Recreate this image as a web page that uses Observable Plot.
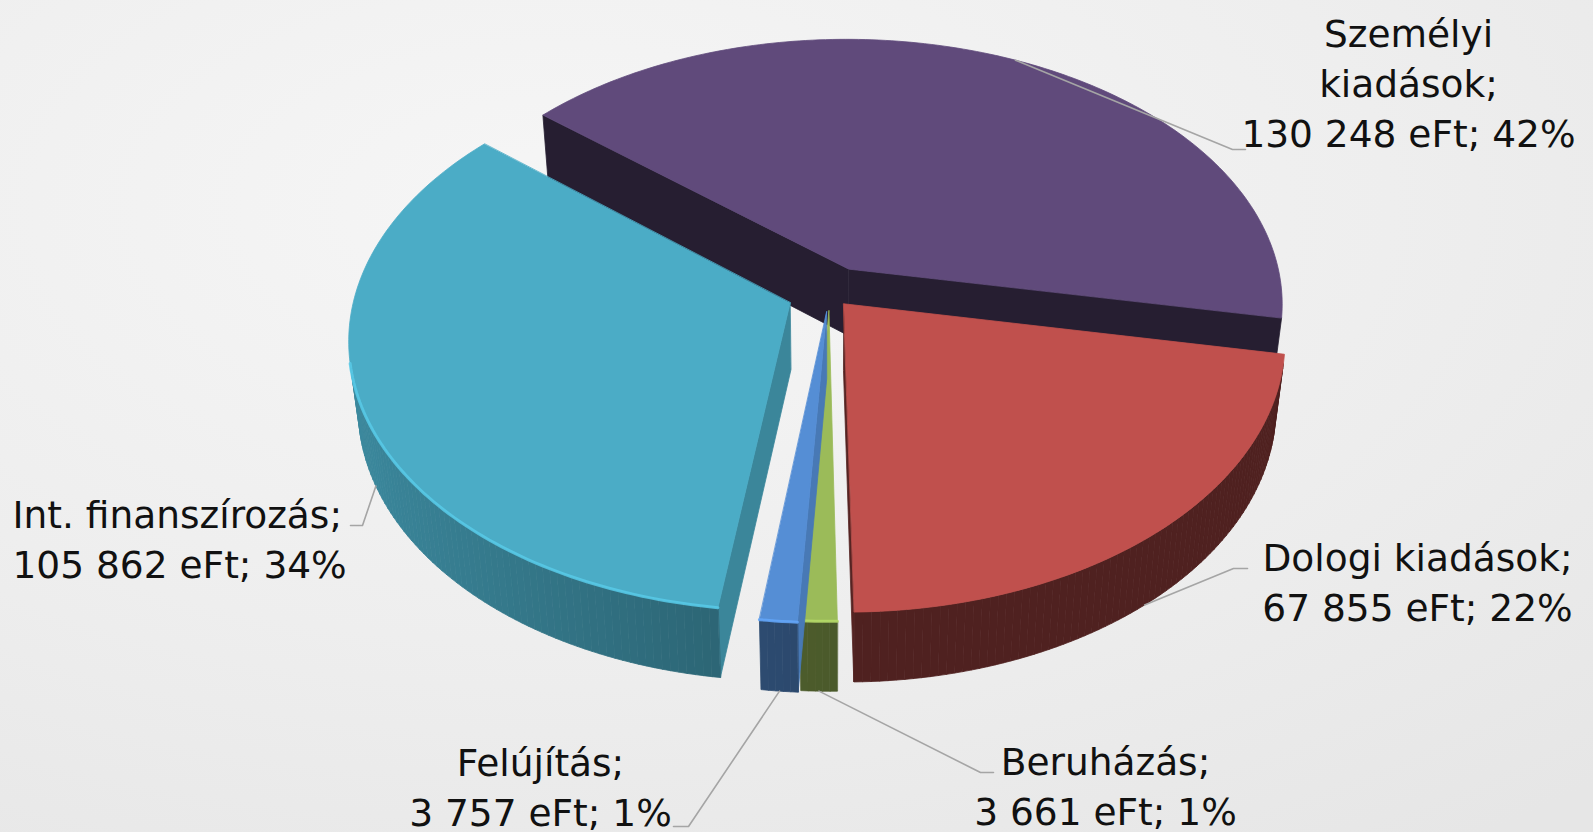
<!DOCTYPE html>
<html><head><meta charset="utf-8">
<script src="https://cdn.jsdelivr.net/npm/d3@7"></script>
<script src="https://cdn.jsdelivr.net/npm/@observablehq/plot@0.6"></script>
<style>
html,body{margin:0;padding:0;width:1593px;height:832px;overflow:hidden;}
body{background: radial-gradient(ellipse 95% 95% at 35% 25%, #f6f6f6 0%, #eeeeee 55%, #e6e6e6 100%);}
#chart svg{display:block}
</style></head><body><div id="chart"></div>
<script>
// ---- data ----
const categories = ["Személyi kiadások", "Dologi kiadások", "Beruházás", "Felújítás", "Int. finanszírozás"];
const values = [130248, 67855, 3661, 3757, 105862];
const unit = "eFt";
// ---- styles ----
const colors = ["#604a7b", "#c0504d", "#9bbb59", "#558ed5", "#4bacc6"];
const sideBase = [0.40, 0.41, 0.48, 0.50, 0.56];
const sideHigh = [0.60, 0.45, 0.70, 0.70, 0.80];
const cutShade = [0.40, 0.45, 0.80, 0.85, 0.78];
const rimGlow = [false, false, true, true, true];
// ---- layout ----
const explode = [45, 22, 28, 30, 42];
const geom = {cx: 829, cy: 293, R: 435, D: 86, tilt: 37.6, dist: 2656, start: 310};
const labelLines = [["Személyi", "kiadások;"], ["Dologi kiadások;"], ["Beruházás;"], ["Felújítás;"], ["Int. finanszírozás;"]];
const labelPos = [
  {x: 1408, base: 46, anchor: "middle", th: 26, h: 0, elbow: [1232, 149], end: [1245, 149]},
  {x: 1417, base: 570, anchor: "middle", th: 141, h: -1, elbow: [1233, 568], end: [1247, 568]},
  {x: 1105, base: 774, anchor: "middle", th: null, h: -1, elbow: [980, 772], end: [993, 772]},
  {x: 540, base: 775, anchor: "middle", th: null, h: -1, elbow: [688, 826], end: [673, 826]},
  {x: 12, base: 527, anchor: "start", th: 246, h: -1, elbow: [362, 525], end: [350, 525]}
];
const fontSize = 37.5, lineGap = 50;

const deg = Math.PI / 180;
const sinA = Math.sin(geom.tilt * deg), cosA = Math.cos(geom.tilt * deg);
const camZ = geom.dist * cosA;
function project(X, Z, h) {
  const t = Z * cosA + h * sinA;
  const s = geom.dist / (geom.dist - t);
  return [geom.cx + X * s, geom.cy + (Z * sinA - h * cosA) * s];
}
const total = d3.sum(values);
const arcs = d3.pie().sort(null).startAngle(geom.start * deg).endAngle(geom.start * deg + 2 * Math.PI)(values);
const slices = arcs.map((a, i) => {
  const mid = (a.startAngle + a.endAngle) / 2, e = explode[i];
  return {i, a1: a.startAngle, a2: a.endAngle, mid, ex: e * Math.sin(mid), ez: -e * Math.cos(mid), color: colors[i]};
});
function rim(sl, th, h) { return project(sl.ex + geom.R * Math.sin(th), sl.ez - geom.R * Math.cos(th), h); }
function apex(sl, h) { return project(sl.ex, sl.ez, h); }
function facing(nx, nz, px, pz) { return nx * (-px) + nz * (camZ - pz) > 0; }
function shade(c, f) { const r = d3.rgb(c); return d3.rgb(r.r * f, r.g * f, r.b * f).formatHex(); }

function polyRows(id, fill, pts) { return pts.map(([x, y]) => ({id, fill, x, y})); }

// painter's order: back to front by slice centroid depth
const order = slices.slice().sort((a, b) =>
  (a.ez - Math.cos(a.mid) * geom.R / 2) - (b.ez - Math.cos(b.mid) * geom.R / 2));

const marks = [];
// soft shadow
const shadowRows = [];
for (const sl of slices) {
  const pts = [apex(sl, -geom.D)];
  const n = Math.ceil((sl.a2 - sl.a1) / deg);
  for (let k = 0; k <= n; k++) pts.push(rim(sl, sl.a1 + (sl.a2 - sl.a1) * k / n, -geom.D));
  shadowRows.push(...polyRows("sh" + sl.i, "#000000", pts));
}
marks.push(Plot.line(shadowRows, {x: "x", y: "y", z: "id", fill: "#000", fillOpacity: 0.16, stroke: "none", curve: "linear-closed", dx: 4, dy: 8, ariaLabel: "shadow"}));

for (const sl of order) {
  const D = geom.D, i = sl.i;
  const sideRows = [];
  // cut faces
  const n1x = -Math.cos(sl.a1), n1z = -Math.sin(sl.a1);
  if (facing(n1x, n1z, sl.ex, sl.ez))
    sideRows.push(...polyRows(`c1-${i}`, shade(sl.color, cutShade[i]), [apex(sl, 0), rim(sl, sl.a1, 0), rim(sl, sl.a1, -D), apex(sl, -D)]));
  const n2x = Math.cos(sl.a2), n2z = Math.sin(sl.a2);
  if (facing(n2x, n2z, sl.ex, sl.ez))
    sideRows.push(...polyRows(`c2-${i}`, shade(sl.color, cutShade[i]), [apex(sl, 0), rim(sl, sl.a2, 0), rim(sl, sl.a2, -D), apex(sl, -D)]));
  // outer curved side
  const n = Math.max(2, Math.ceil((sl.a2 - sl.a1) / (1 * deg)));
  const d = (sl.a2 - sl.a1) / n;
  const glow = [];
  let glowSeg = 0, lastVis = false;
  for (let k = 0; k < n; k++) {
    const a = sl.a1 + k * d, b = a + d, m = (a + b) / 2;
    const px = sl.ex + geom.R * Math.sin(m), pz = sl.ez - geom.R * Math.cos(m);
    const vis = facing(Math.sin(m), -Math.cos(m), px, pz);
    if (vis) {
      const f = sideBase[i] + (sideHigh[i] - sideBase[i]) * Math.max(0, -Math.sin(m));
      sideRows.push(...polyRows(`s-${i}-${k}`, shade(sl.color, f), [rim(sl, a, 0), rim(sl, b, 0), rim(sl, b, -D), rim(sl, a, -D)]));
      if (!lastVis) { glowSeg++; const [x, y] = rim(sl, a, 0); glow.push({id: `g-${i}-${glowSeg}`, x, y}); }
      const [x, y] = rim(sl, b, 0); glow.push({id: `g-${i}-${glowSeg}`, x, y});
    }
    lastVis = vis;
  }
  marks.push(Plot.line(sideRows, {x: "x", y: "y", z: "id", fill: "fill", stroke: "fill", strokeWidth: 0.8, curve: "linear-closed"}));
  // top face
  const top = [apex(sl, 0)];
  for (let k = 0; k <= n; k++) top.push(rim(sl, sl.a1 + k * d, 0));
  marks.push(Plot.line(polyRows(`t-${i}`, sl.color, top), {x: "x", y: "y", z: "id", fill: "fill", stroke: "fill", strokeWidth: 0.8, curve: "linear-closed"}));
  if (rimGlow[i] && glow.length)
    marks.push(Plot.line(glow, {x: "x", y: "y", z: "id", stroke: d3.rgb(sl.color).brighter(0.45).formatHex(), strokeWidth: 3, strokeOpacity: 0.85}));
}

// labels & leader lines
const fmt = v => d3.format(",")(v).replace(/,/g, " ");
const leaderRows = [];
const textMarks = [];
slices.forEach((sl, i) => {
  const L = labelPos[i];
  const th = (L.th == null ? sl.mid : L.th * deg);
  const [sx, sy] = rim(sl, th, L.h * geom.D);
  leaderRows.push({id: i, x: sx, y: sy}, {id: i, x: L.elbow[0], y: L.elbow[1]}, {id: i, x: L.end[0], y: L.end[1]});
  const lines = [...labelLines[i], `${fmt(values[i])} ${unit}; ${Math.round(values[i] / total * 100)}%`];
  const rows = lines.map((t, j) => ({text: t, x: L.x, y: L.base + j * lineGap - 0.32 * fontSize}));
  textMarks.push(Plot.text(rows, {x: "x", y: "y", text: "text", textAnchor: L.anchor, fontSize, fill: "#111"}));
});
marks.push(Plot.line(leaderRows, {x: "x", y: "y", z: "id", stroke: "#a5a5a5", strokeWidth: 1.6}));
marks.push(...textMarks);

const chart = Plot.plot({
  width: 1593, height: 832, margin: 0,
  x: {domain: [0, 1593], range: [0, 1593], axis: null},
  y: {domain: [0, 832], range: [0, 832], axis: null},
  color: {type: "identity"},
  style: {background: "transparent", fontFamily: "'DejaVu Sans', sans-serif", overflow: "visible"},
  marks
});
// blur filter for the shadow
const ns = "http://www.w3.org/2000/svg";
const defs = document.createElementNS(ns, "defs");
defs.innerHTML = '<filter id="softShadow" x="-20%" y="-20%" width="140%" height="140%"><feGaussianBlur stdDeviation="9"/></filter>';
chart.insertBefore(defs, chart.firstChild);
const sh = chart.querySelector('[aria-label="shadow"]');
if (sh) sh.setAttribute("filter", "url(#softShadow)");
document.getElementById("chart").appendChild(chart);
</script>
</body></html>
